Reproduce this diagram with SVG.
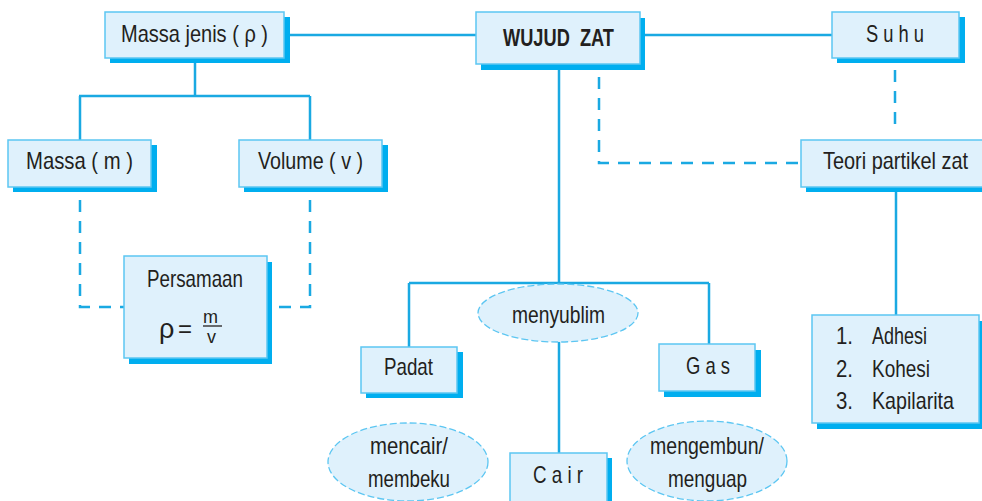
<svg xmlns="http://www.w3.org/2000/svg" width="982" height="501" viewBox="0 0 982 501">
<style>
.sh{fill:#00AEEF}
.bx{fill:#DFF1FC;stroke:#5CC6F2;stroke-width:1.5}
.el{fill:#DFF1FC;stroke:#5CC6F2;stroke-width:1.3;stroke-dasharray:7 3}
.ln{fill:none;stroke:#1AA9E2;stroke-width:2.5}
.dl{fill:none;stroke:#1AA9E2;stroke-width:2.5;stroke-dasharray:12 9}
text{font-family:"Liberation Sans",Arial,sans-serif;font-size:24px;fill:#231F20}
.b{font-weight:bold;font-size:23px}
</style>
<rect width="982" height="501" fill="#fff"/>
<g id="connectors">
<path class="ln" d="M284 35H476"/>
<path class="ln" d="M640 35H832"/>
<path class="ln" d="M195 63V96M79 96H310M80 96V140M310 96V140"/>
<path class="ln" d="M559 70V453M409 283H709M409 283V347M709 283V344"/>
<path class="ln" d="M896 192V315"/>
<path class="dl" d="M599 77V163H801"/>
<path class="dl" d="M895 70V128"/>
<path class="dl" d="M80 200V307H124"/>
<path class="dl" d="M310 200V307H267"/>
</g>
<g id="massa-jenis"><rect class="sh" x="110" y="17" width="180" height="46"/><rect class="bx" x="105" y="12" width="179" height="46"/><text x="121" y="42" textLength="147" lengthAdjust="spacingAndGlyphs">Massa jenis ( ρ )</text></g>
<g id="wujud-zat"><rect class="sh" x="481" y="18" width="164" height="52"/><rect class="bx" x="476" y="12" width="164" height="52"/><text class="b" x="503" y="46" textLength="111" lengthAdjust="spacingAndGlyphs">WUJUD&#160; ZAT</text></g>
<g id="suhu"><rect class="sh" x="837" y="17" width="128" height="46"/><rect class="bx" x="832" y="12" width="127" height="46"/><text x="866" y="42" textLength="58" lengthAdjust="spacingAndGlyphs">S u h u</text></g>
<g id="teori"><rect class="sh" x="806" y="146" width="180" height="46"/><rect class="bx" x="801" y="140" width="185" height="47"/><text x="823" y="169" textLength="145" lengthAdjust="spacingAndGlyphs">Teori partikel zat</text></g>
<g id="massa"><rect class="sh" x="13" y="145" width="144" height="47"/><rect class="bx" x="8" y="140" width="143" height="47"/><text x="26" y="169" textLength="107" lengthAdjust="spacingAndGlyphs">Massa ( m )</text></g>
<g id="volume"><rect class="sh" x="244" y="145" width="144" height="47"/><rect class="bx" x="239" y="140" width="143" height="47"/><text x="258" y="169" textLength="105" lengthAdjust="spacingAndGlyphs">Volume ( v )</text></g>
<g id="persamaan"><rect class="sh" x="129" y="262" width="143" height="102"/><rect class="bx" x="124" y="256" width="143" height="102"/><text x="147" y="287" textLength="96" lengthAdjust="spacingAndGlyphs">Persamaan</text>
<text x="159" y="338" style="font-size:27px">ρ</text><text x="178" y="337">=</text><text x="203" y="323" style="font-size:18px">m</text><path d="M203 326H222" stroke="#231F20" stroke-width="1.3"/><text x="207" y="343" style="font-size:18px">v</text></g>
<g id="padat"><rect class="sh" x="366" y="352" width="97" height="46"/><rect class="bx" x="361" y="347" width="96" height="46"/><text x="384" y="375" textLength="49" lengthAdjust="spacingAndGlyphs">Padat</text></g>
<g id="gas"><rect class="sh" x="664" y="350" width="97" height="47"/><rect class="bx" x="659" y="344" width="96" height="47"/><text x="686" y="374" textLength="44" lengthAdjust="spacingAndGlyphs">G a s</text></g>
<g id="cair"><rect class="sh" x="515" y="458" width="97" height="50"/><rect class="bx" x="510" y="453" width="97" height="50"/><text x="533" y="483" textLength="50" lengthAdjust="spacingAndGlyphs">C a i r</text></g>
<g id="menyublim"><ellipse class="el" cx="558" cy="313" rx="80" ry="29"/><text x="512" y="323" textLength="93" lengthAdjust="spacingAndGlyphs">menyublim</text></g>
<g id="mencair"><ellipse class="el" cx="408" cy="462" rx="80" ry="39"/><text x="370" y="454" textLength="78" lengthAdjust="spacingAndGlyphs">mencair/</text><text x="368" y="487" textLength="82" lengthAdjust="spacingAndGlyphs">membeku</text></g>
<g id="mengembun"><ellipse class="el" cx="707" cy="461" rx="80" ry="40"/><text x="650" y="454" textLength="114" lengthAdjust="spacingAndGlyphs">mengembun/</text><text x="668" y="487" textLength="79" lengthAdjust="spacingAndGlyphs">menguap</text></g>
<g id="list"><rect class="sh" x="817" y="321" width="167" height="108"/><rect class="bx" x="812" y="315" width="167" height="108"/>
<text x="836" y="344" textLength="17" lengthAdjust="spacingAndGlyphs">1.</text><text x="872" y="344" textLength="55" lengthAdjust="spacingAndGlyphs">Adhesi</text>
<text x="836" y="377" textLength="17" lengthAdjust="spacingAndGlyphs">2.</text><text x="872" y="377" textLength="58" lengthAdjust="spacingAndGlyphs">Kohesi</text>
<text x="836" y="409" textLength="17" lengthAdjust="spacingAndGlyphs">3.</text><text x="872" y="409" textLength="82" lengthAdjust="spacingAndGlyphs">Kapilarita</text></g>
</svg>
